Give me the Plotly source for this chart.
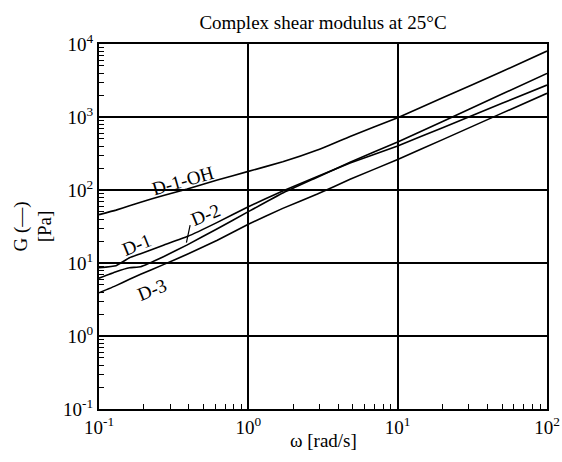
import numpy as np
import plotly.graph_objects as go

# ---- data (omega in rad/s, G in Pa) ----
omega = [0.1, 0.13, 0.16, 0.19, 0.27, 0.39, 0.62, 1.0, 1.7, 2.9, 4.8, 10, 20, 50, 100]
g_d1_oh = [46, 53, 61, 68, 84, 103, 137, 180, 243, 352, 540, 980, 1830, 4200, 8000]
g_d1 = [8.6, 9.2, 11.8, 13.4, 17.5, 23, 36, 59, 97, 153, 235, 401, 715, 1540, 2740]
g_d2 = [6.2, 7.6, 8.6, 8.9, 12.2, 17.7, 29.5, 50.5, 91, 150, 240, 455, 870, 2060, 3960]
g_d3 = [3.9, 4.9, 6.0, 7.0, 9.5, 13.2, 20.5, 34, 56, 88, 140, 262, 490, 1130, 2110]

series_names = ["D-1-OH", "D-1", "D-2", "D-3"]
series_values = [g_d1_oh, g_d1, g_d2, g_d3]

x_decades = [-1, 0, 1, 2]
y_decades = [-1, 0, 1, 2, 3, 4]
x_ticktext = ["10<sup>-1</sup>", "10<sup>0</sup>", "10<sup>1</sup>", "10<sup>2</sup>"]
y_ticktext = ["10<sup>-1</sup>", "10<sup>0</sup>", "10<sup>1</sup>", "10<sup>2</sup>",
              "10<sup>3</sup>", "10<sup>4</sup>"]

FONT = "Liberation Serif, Times New Roman, serif"
FS = 19

fig = go.Figure()
for name, vals in zip(series_names, series_values):
    fig.add_trace(go.Scatter(x=omega, y=vals, mode="lines", name=name,
                             line=dict(color="black", width=1.6, shape="spline", smoothing=0.3),
                             showlegend=False))

def minor_vals(decades):
    out = []
    for d in decades[:-1]:
        for k in range(2, 10):
            out.append(k * 10.0 ** d)
    return out

axis_common = dict(
    type="log",
    showline=True, linecolor="black", linewidth=2, mirror=True,
    showgrid=True, gridcolor="black", gridwidth=1.5,
    ticks="", zeroline=False, automargin=False,
    tickfont=dict(family=FONT, size=FS, color="black"),
)

fig.update_xaxes(
    **axis_common,
    range=[-1, 2],
    tickmode="array",
    tickvals=[10.0 ** d for d in x_decades],
    ticktext=x_ticktext,
    minor=dict(tickvals=minor_vals(x_decades), ticks="inside", ticklen=5,
               tickcolor="black", tickwidth=1, showgrid=False),
)
fig.update_yaxes(
    **axis_common,
    range=[-1, 4],
    tickmode="array",
    tickvals=[10.0 ** d for d in y_decades],
    ticktext=y_ticktext,
    minor=dict(tickvals=minor_vals(y_decades), ticks="inside", ticklen=5,
               tickcolor="black", tickwidth=1, showgrid=False),
    title=dict(text="G (—)<br>[Pa]", font=dict(family=FONT, size=FS, color="black"), standoff=6),
)

# x-axis title placed just under the tick labels
fig.add_annotation(text="ω [rad/s]", x=0.5, y=0, xref="paper", yref="paper",
                   xanchor="center", yanchor="top", yshift=-19, showarrow=False,
                   font=dict(family=FONT, size=FS, color="black"))

label_font = dict(family=FONT, size=FS, color="black")
labels = [
    ("D-1-OH", 0.366, 137, -16),
    ("D-1", 0.18, 17.7, -22),
    ("D-2", 0.522, 45.5, -22),
    ("D-3", 0.227, 4.4, -22),
]
for text, xv, yv, ang in labels:
    fig.add_annotation(x=np.log10(xv), y=np.log10(yv), text=text, showarrow=False,
                       textangle=ang, font=label_font, xref="x", yref="y")

# leader line from the D-2 label to its curve
fig.add_annotation(x=np.log10(0.385), y=np.log10(19.0), text="", showarrow=True,
                   arrowhead=0, arrowwidth=1.2, arrowcolor="black", ax=4, ay=-19,
                   xref="x", yref="y")

fig.update_layout(
    width=562, height=462,
    margin=dict(l=99, r=15, t=44, b=53),
    paper_bgcolor="white", plot_bgcolor="white",
    font=dict(family=FONT, size=FS, color="black"),
    title=dict(text="Complex shear modulus at 25°C", x=(99 + 547) / 2 / 562, xanchor="center",
               y=1 - 22 / 462, yanchor="middle",
               font=dict(family=FONT, size=FS, color="black")),
)

fig.write_html("out.html")
